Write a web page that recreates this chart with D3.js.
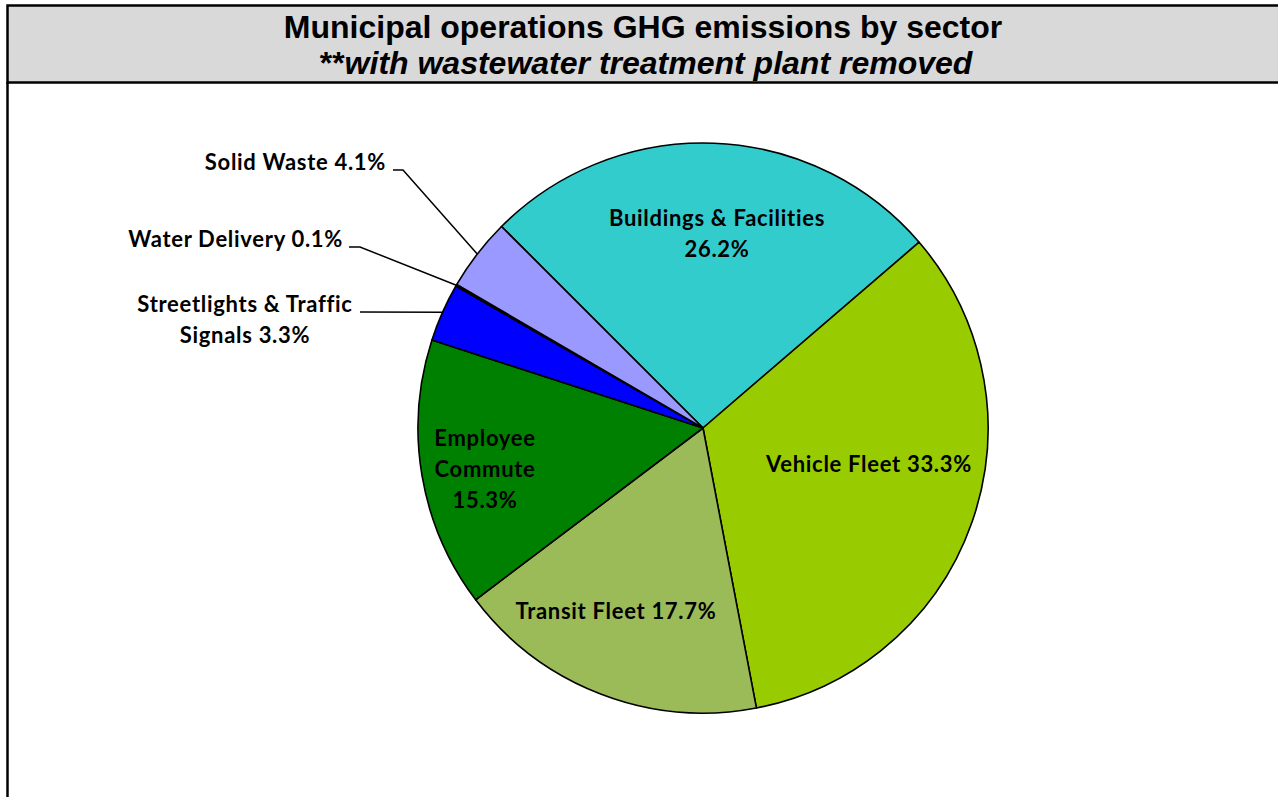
<!DOCTYPE html>
<html>
<head>
<meta charset="utf-8">
<script src="https://cdn.jsdelivr.net/npm/d3@7"></script>
<style>
  html, body { margin: 0; padding: 0; background: #fff; }
  svg { display: block; }
</style>
</head>
<body>
<div id="main"></div>
<script>
// sectors, clockwise from the top-left
const sectors = ["Buildings & Facilities", "Vehicle Fleet", "Transit Fleet", "Employee Commute",
                 "Streetlights & Traffic Signals", "Water Delivery", "Solid Waste"];
const shares = [26.2, 33.3, 17.7, 15.3, 3.3, 0.1, 4.1];
const colors = ["#33CCCC", "#99CC00", "#9BBB59", "#008000", "#0000FF", "#993366", "#9999FF"];

// label text lines ({v} is replaced by the share)
const labelLines = [
  ["Buildings & Facilities", "{v}%"],
  ["Vehicle Fleet {v}%"],
  ["Transit Fleet {v}%"],
  ["Employee", "Commute", "{v}%"],
  ["Streetlights & Traffic", "Signals {v}%"],
  ["Water Delivery {v}%"],
  ["Solid Waste {v}%"]
];

const width = 1278;
const height = 797;
const cx = 703, cy = 428, radius = 285;

// label placement: inside labels are centred at x; outside labels get a leader line
const labelLayout = [
  { x: 717, y: 226, anchor: "middle" },
  { x: 869, y: 472, anchor: "middle" },
  { x: 616, y: 619, anchor: "middle" },
  { x: 485, y: 446, anchor: "middle" },
  { x: 245, y: 312, anchor: "middle", lineY: 312, lineFrom: 360, elbow: null },
  { x: 343, y: 247, anchor: "end", lineY: 247, lineFrom: 349, elbow: 360 },
  { x: 386, y: 170, anchor: "end", lineY: 170, lineFrom: 393, elbow: 403 }
];

const svg = d3.select("#main")
              .append("svg")
              .attr("width", width)
              .attr("height", height);

svg.append("rect")
   .attr("width", width)
   .attr("height", height)
   .attr("fill", "#fff");

// frame: left edge and title band
svg.append("line")
   .attr("x1", 7.5).attr("x2", 7.5)
   .attr("y1", 82).attr("y2", height)
   .attr("stroke", "#000")
   .attr("stroke-width", 2.5);

svg.append("rect")
   .attr("x", 7.5)
   .attr("y", 5.5)
   .attr("width", width + 20)
   .attr("height", 77)
   .attr("fill", "#D9D9D9")
   .attr("stroke", "#000")
   .attr("stroke-width", 2.5);

svg.append("text")
   .attr("x", 643)
   .attr("y", 38)
   .attr("text-anchor", "middle")
   .style("font-family", "'Liberation Sans', Arial, sans-serif")
   .style("font-weight", "bold")
   .style("font-size", "32px")
   .text("Municipal operations GHG emissions by sector");

svg.append("text")
   .attr("x", 646)
   .attr("y", 74)
   .attr("text-anchor", "middle")
   .style("font-family", "'Liberation Sans', Arial, sans-serif")
   .style("font-weight", "bold")
   .style("font-size", "32px")
   .html("**<tspan font-style='italic'>with wastewater treatment plant removed</tspan>");

const pie = d3.pie()
              .sort(null)
              .value(d => d)
              .startAngle(-Math.PI / 4)
              .endAngle(-Math.PI / 4 + 2 * Math.PI);

const arcs = pie(shares);

const arc = d3.arc()
              .innerRadius(0)
              .outerRadius(radius);

const g = svg.append("g")
             .attr("transform", "translate(" + cx + "," + cy + ")");

g.selectAll(".slice")
 .data(arcs)
 .enter()
 .append("path")
 .attr("class", "slice")
 .attr("d", arc)
 .attr("fill", (d, i) => colors[i])
 .attr("stroke", "#000")
 .attr("stroke-width", 1.6)
 .attr("stroke-linejoin", "round");

// leader lines for the small slices
arcs.forEach((d, i) => {
  const lay = labelLayout[i];
  if (lay.lineY === undefined) return;
  const mid = (d.startAngle + d.endAngle) / 2;
  const px = cx + radius * Math.sin(mid);
  const py = cy - radius * Math.cos(mid);
  const pts = [[px, py]];
  if (lay.elbow !== null) pts.push([lay.elbow, lay.lineY]);
  pts.push([lay.lineFrom, lay.lineY]);
  svg.append("path")
     .attr("d", d3.line()(pts))
     .attr("fill", "none")
     .attr("stroke", "#000")
     .attr("stroke-width", 1.5);
});

labelLines.forEach((lines, i) => {
  const lay = labelLayout[i];
  const t = svg.append("text")
               .attr("text-anchor", lay.anchor)
               .style("font-family", "Lato, 'Open Sans', sans-serif")
               .style("font-weight", "bold")
               .style("font-size", "22px")
               .style("letter-spacing", "0.7px")
               .attr("fill", "#000");
  lines.forEach((s, k) => {
    t.append("tspan")
     .attr("x", lay.x)
     .attr("y", lay.y + k * 31)
     .text(s.replace("{v}", shares[i].toFixed(1)));
  });
});
</script>
</body>
</html>
